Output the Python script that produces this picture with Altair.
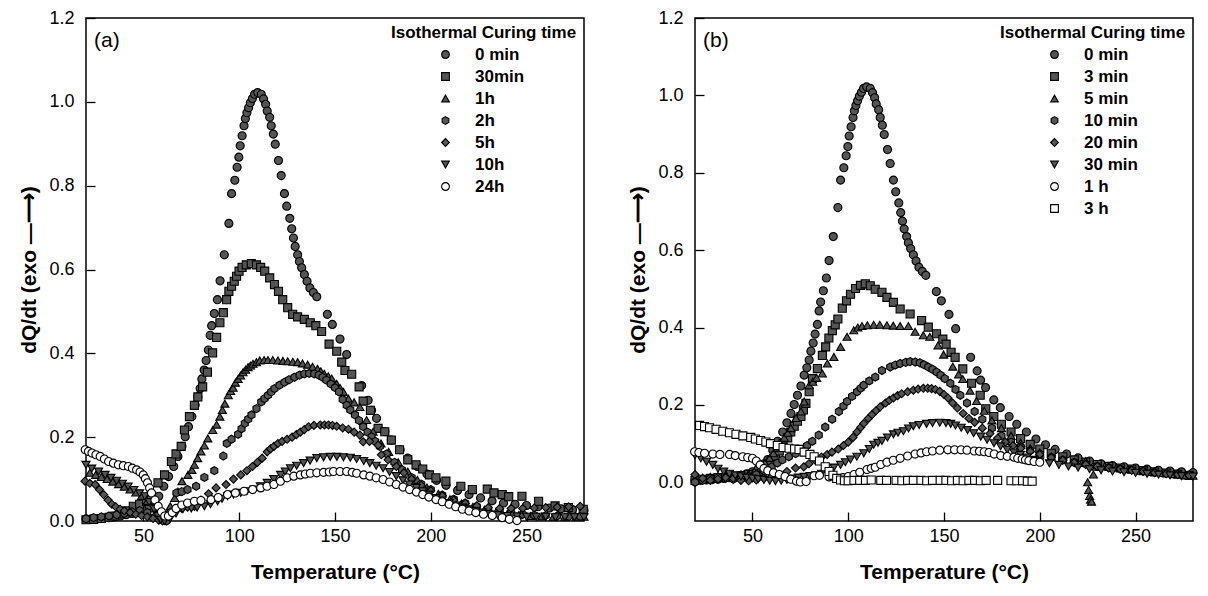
import altair as alt
import pandas as pd

FONT = "Liberation Sans"
DARK = "#555555"
HEX = "M0,-1L0.866,-0.5L0.866,0.5L0,1L-0.866,0.5L-0.866,-0.5Z"

# ---------------- panel (a) ----------------
series_a = ["0 min", "30min", "1h", "2h", "5h", "10h", "24h"]
shapes_a = ["circle", "square", "triangle-up", HEX, "diamond", "triangle-down", "circle"]
fills_a = [DARK, DARK, DARK, DARK, DARK, DARK, "white"]

c_0min = [(20,0.005),(23,0.005),(26,0.006),(29,0.007),(32,0.008),(35,0.01),(38,0.012),(41,0.015),(44,0.018),
          (47,0.022),(50,0.027),(53,0.035),(56,0.048),(58,0.059),(60.6,0.083),(63.1,0.106),(65.8,0.13),(68,0.154),
          (70.1,0.178),(71.8,0.201),(73.5,0.225),(75.3,0.249),(77,0.277),(78.4,0.296),(79.6,0.316),(80.5,0.339),
          (81.7,0.36),(82.7,0.383),(83.9,0.408),(84.8,0.443),(85.6,0.466),(87,0.495),(88.6,0.528),(90,0.573),
          (92.2,0.635),(94.6,0.71),(96,0.781),(97.7,0.813),(98.9,0.844),(99.8,0.868),(100.5,0.895),(101.5,0.919),
          (102.5,0.943),(103.2,0.96),(104,0.974),(104.9,0.986),(105.8,0.998),(106.9,1.008),(108,1.018),(109.6,1.022),
          (111.5,1.018),(112.7,1.007),(113.8,0.994),(114.6,0.978),(115.9,0.963),(116.7,0.943),(117.8,0.923),
          (118.8,0.899),(120.5,0.86),(121.9,0.824),(123.6,0.781),(124.8,0.751),(126.4,0.722),(127.4,0.697),
          (128.3,0.675),(129.2,0.655),(130.5,0.635),(131.4,0.619),(132.6,0.604),(134,0.588),(135.4,0.572),
          (136.9,0.556),(138.7,0.545),(140.5,0.535),(146,0.493),(148.6,0.469),(152.6,0.434),(156.1,0.397),
          (163.9,0.323),(167.3,0.288),(169.1,0.264),(171.7,0.245),(176,0.213),(179.4,0.193),(184,0.17),(188,0.15),
          (193,0.13),(198,0.112),(203,0.097),(208,0.085),(214,0.073),(220,0.063),(226,0.055),(232,0.048),(238,0.043),
          (244,0.04),(250,0.037),(256,0.034),(262,0.031),(268,0.029),(274,0.027),(280,0.025)]

a_30min = [(20,0.003),(24,0.004),(28,0.006),(32,0.009),(35,0.012),(38,0.017),(41,0.024),(44.7,0.035),(48,0.04),
           (51.6,0.047),(54,0.06),(57.6,0.091),(61,0.11),(64.6,0.142),(67,0.16),(69.7,0.178),(71.4,0.217),(74,0.249),
           (76.6,0.276),(78.4,0.296),(80.9,0.32),(83.4,0.355),(86.1,0.401),(88.2,0.438),(89.9,0.473),(91.7,0.497),
           (93.4,0.528),(94.6,0.548),(96,0.56),(97.4,0.572),(98.6,0.584),(99.9,0.596),(101.5,0.605),(103.7,0.611),
           (106.3,0.614),(109,0.611),(111.2,0.605),(113.3,0.596),(115.9,0.58),(118.4,0.564),(120.5,0.548),
           (122.7,0.528),(125.3,0.509),(127.9,0.493),(130.5,0.487),(134,0.481),(137.1,0.473),(140,0.466),(143,0.452),
           (146.9,0.422),(150.9,0.405),(153.5,0.379),(155.2,0.359),(158.7,0.35),(162.6,0.32),(164.7,0.286),
           (168.5,0.264),(172.5,0.221),(176,0.213),(179.4,0.193),(183.7,0.17),(188,0.146),(192.3,0.134),
           (195.8,0.124),(199.3,0.11),(202.7,0.103),(207.9,0.095),(215.7,0.083),(221.7,0.075),(229.5,0.076),
           (233,0.067),(237.3,0.063),(240.7,0.058),(247.6,0.059),(256.3,0.047),(264.9,0.036),(271.8,0.032),(279.6,0.028)]

a_1h = [(22,0.115),(25,0.11),(28,0.105),(31,0.1),(34,0.094),(37,0.088),(40,0.082),(43,0.075),(46,0.068),(49,0.06),
        (52,0.048),(55,0.03),(58,0.012),(61,0.004),(62.5,0.015),(64,0.035),(66.3,0.055),(68,0.07),(70.1,0.095),
        (73.2,0.11),(75.3,0.122),(76.6,0.134),(78.3,0.15),(80,0.166),(81.8,0.18),(83.6,0.197),(86.2,0.217),
        (88.2,0.23),(89.9,0.249),(91.2,0.265),(92.5,0.28),(94.3,0.3),(95.5,0.31),(96.8,0.318),(98,0.33),(99.4,0.339),
        (100.7,0.347),(102,0.355),(103.3,0.361),(104.6,0.367),(105.9,0.371),(107.2,0.375),(109,0.379),(110.7,0.383),
        (113,0.384),(115,0.384),(117.5,0.384),(120.2,0.383),(122.8,0.382),(125.3,0.381),(128,0.38),(130.5,0.379),
        (133,0.376),(135.7,0.373),(138.3,0.368),(140.9,0.363),(142.6,0.357),(144.4,0.351),(146.5,0.345),
        (148.3,0.34),(150.9,0.327),(152.7,0.317),(154.4,0.308),(157,0.292),(160,0.283),(163,0.272),(166.5,0.241),
        (169.9,0.213),(174,0.185),(178,0.165),(183,0.14),(188,0.118),(193,0.098),(198,0.08),(204,0.065),
        (210,0.052),(216,0.042),(222,0.034),(228,0.027),(234,0.021),(240,0.017),(246,0.014),(252,0.012),
        (258,0.011),(264,0.01),(270,0.01),(276,0.01),(280,0.01)]

a_2h = [(20,0.005),(24,0.008),(28,0.01),(32,0.012),(36,0.015),(40,0.018),(44,0.022),(48,0.025),(52,0.02),(56,0.01),
        (60,0.003),(62,0.0),(64,0.02),(67.2,0.067),(70,0.07),(73,0.075),(77.5,0.083),(81.8,0.104),(87,0.12),
        (91.7,0.155),(93.5,0.185),(96,0.195),(99.4,0.207),(101.2,0.22),(102.9,0.233),(104.7,0.243),(106.4,0.253),
        (109,0.268),(111.5,0.284),(113.2,0.292),(115,0.3),(116.7,0.308),(118.4,0.316),(121,0.324),(123.6,0.331),
        (126,0.337),(128.8,0.343),(131.5,0.348),(134,0.351),(136.5,0.352),(139.2,0.351),(141.5,0.348),(143.5,0.343),
        (145.5,0.336),(147.8,0.327),(150,0.318),(152.1,0.308),(154,0.29),(156.1,0.276),(158,0.265),(160.4,0.253),
        (162.5,0.24),(164.7,0.225),(167,0.212),(169.1,0.201),(171,0.19),(173.4,0.178),(177,0.16),(181,0.14),
        (185,0.122),(190,0.104),(195,0.088),(200,0.075),(206,0.062),(212,0.052),(218,0.043),(224,0.035),(230,0.028),
        (236,0.023),(242,0.019),(248,0.016),(254,0.014),(260,0.013),(266,0.012),(272,0.011),(278,0.011)]

a_5h = [(19.5,0.095),(22,0.09),(24.8,0.087),(27,0.075),(29.2,0.063),(31.5,0.05),(33.5,0.04),(35.5,0.034),
        (37.8,0.028),(40,0.024),(43,0.02),(46,0.016),(49,0.013),(52,0.01),(55,0.006),(58,0.002),(60,0.0),
        (63,0.012),(66.3,0.028),(70,0.03),(73,0.033),(76.6,0.035),(80,0.05),(84,0.065),(87.9,0.079),(93.1,0.087),
        (97,0.1),(100.8,0.11),(104,0.12),(106.9,0.13),(109.5,0.14),(112,0.15),(114.6,0.165),(116.3,0.172),
        (118.1,0.178),(120.2,0.185),(122.4,0.19),(125,0.195),(127.6,0.2),(129.8,0.206),(131.9,0.212),(134,0.218),
        (136.2,0.225),(139,0.228),(142.3,0.229),(144.5,0.229),(146.6,0.229),(148.7,0.228),(150.9,0.226),
        (154,0.222),(157,0.219),(160,0.212),(163,0.205),(164.7,0.189),(168,0.19),(172.5,0.181),(174.2,0.158),
        (177.7,0.146),(182,0.13),(186,0.115),(190,0.1),(195,0.085),(200,0.072),(206,0.06),(212,0.05),(218,0.042),
        (224,0.036),(230,0.032),(236,0.03),(242,0.03),(248,0.03),(254,0.031),(260,0.032),(266,0.033),(272,0.034),
        (278,0.035)]

a_10h = [(20,0.134),(23,0.125),(26.6,0.118),(30,0.11),(33,0.103),(36,0.096),(39,0.089),(42,0.082),(45,0.074),
         (48,0.066),(50.7,0.059),(53,0.045),(55.5,0.028),(57.5,0.012),(59,0.003),(61,0.0),(64,0.006),(67,0.018),
         (70.6,0.028),(75,0.03),(78,0.032),(81.8,0.035),(85,0.04),(88.7,0.047),(91,0.053),(93.9,0.059),(97,0.063),
         (100.8,0.067),(104,0.071),(107.7,0.075),(111,0.083),(114.6,0.091),(118,0.1),(121.6,0.11),(124,0.118),
         (126.7,0.126),(130,0.132),(133.6,0.138),(137,0.144),(140.5,0.15),(144,0.152),(147.5,0.153),(151,0.153),
         (154.4,0.152),(158,0.151),(161.3,0.148),(165,0.143),(168.2,0.138),(171.5,0.132),(175.1,0.126),
         (178.5,0.117),(182,0.107),(185.5,0.097),(188.9,0.087),(192.5,0.079),(195.8,0.071),(199,0.063),
         (202.7,0.055),(206,0.049),(209.6,0.043),(213,0.037),(216.5,0.032),(220,0.028),(223.5,0.024),(227,0.02),
         (230.4,0.016),(235,0.014),(240,0.012),(245,0.011),(250,0.01),(255,0.01),(260,0.01),(265,0.009),
         (270,0.009),(275,0.009),(280,0.009)]

a_24h = [(19.6,0.17),(21.3,0.166),(23.1,0.162),(25.2,0.158),(27.4,0.154),(29.6,0.148),(31.8,0.142),(34.3,0.138),
         (36.9,0.134),(39.5,0.132),(42.1,0.13),(44.2,0.126),(46.4,0.122),(48.2,0.117),(49.9,0.11),(51,0.101),
         (52.1,0.091),(53.2,0.079),(54.2,0.067),(56,0.05),(57.7,0.035),(59.4,0.022),(61.1,0.012),(63,0.012),
         (65,0.02),(67,0.03),(70,0.038),(73,0.043),(76.6,0.047),(80,0.049),(85.3,0.051),(89,0.056),(93.9,0.063),
         (98,0.067),(102.5,0.071),(107,0.075),(111.2,0.079),(114.5,0.083),(118.1,0.087),(121.5,0.095),(125,0.103),
         (128.5,0.107),(131.9,0.11),(134.5,0.112),(137.1,0.114),(140.5,0.115),(144,0.116),(147,0.117),(149.2,0.118),
         (152.6,0.118),(156.1,0.118),(159,0.116),(161.3,0.114),(165,0.11),(168.2,0.107),(171.5,0.103),(175.1,0.099),
         (178.5,0.093),(182,0.087),(185.5,0.081),(188.9,0.075),(192.5,0.069),(195.8,0.063),(199,0.057),(202.7,0.051),
         (206,0.046),(209.6,0.04),(213,0.034),(216.5,0.028),(220,0.024),(223.5,0.02),(227.5,0.016),(232.1,0.013),
         (237.3,0.008),(241,0.004),(245,0.001)]

# ---------------- panel (b) ----------------
series_b = ["0 min", "3 min", "5 min", "10 min", "20 min", "30 min", "1 h", "3 h"]
shapes_b = ["circle", "square", "triangle-up", HEX, "diamond", "triangle-down", "circle", "square"]
fills_b = [DARK, DARK, DARK, DARK, DARK, DARK, "white", "white"]

b_3min = [(20,0.005),(24,0.008),(28,0.01),(32,0.012),(36,0.013),(40,0.015),(44,0.017),(48,0.02),(52,0.022),
          (55.4,0.029),(57.5,0.04),(59.7,0.055),(62,0.068),(64,0.081),(66,0.1),(68.4,0.115),(70,0.13),(71.8,0.145),
          (73.5,0.158),(75.3,0.17),(76.6,0.187),(77.9,0.204),(79.6,0.234),(81.3,0.268),(83.9,0.294),(86.5,0.328),
          (88.2,0.35),(89.9,0.373),(91.7,0.392),(93.2,0.407),(94.6,0.422),(96.9,0.45),(99.1,0.469),(101.2,0.486),
          (103.8,0.501),(106.4,0.509),(108.9,0.513),(111.5,0.508),(114.1,0.499),(117.6,0.491),(120.2,0.478),
          (123.6,0.465),(127.1,0.448),(132.3,0.435),(138.3,0.418),(141.8,0.401),(146.1,0.384),(149.4,0.37),
          (151.1,0.357),(153.7,0.336),(155.8,0.323),(159.8,0.293),(164.4,0.256),(168.9,0.225),(171.8,0.19),
          (176,0.17),(180,0.15),(185,0.13),(190,0.113),(195,0.098),(200,0.086),(206,0.075),(212,0.066),(218,0.058),
          (224,0.052),(230,0.046),(236,0.041),(242,0.037),(248,0.034),(254,0.03),(260,0.027),(266,0.024),
          (272,0.021),(278,0.018)]

b_5min = [(20,0.01),(24,0.012),(28,0.014),(32,0.016),(36,0.018),(40,0.02),(44,0.02),(48,0.022),(51,0.028),
          (54.5,0.038),(56.5,0.05),(58.9,0.063),(61,0.075),(63.2,0.089),(65,0.1),(66.6,0.115),(68.4,0.128),
          (70.1,0.14),(72.7,0.166),(75.3,0.183),(77,0.209),(79.6,0.251),(81.5,0.26),(83.5,0.27),(86.5,0.281),
          (89.1,0.307),(92.5,0.324),(96,0.35),(99.4,0.376),(102.9,0.393),(105,0.4),(107.2,0.404),(110,0.406),
          (113.3,0.407),(116.5,0.407),(120.2,0.406),(123.5,0.405),(127.1,0.404),(131.4,0.404),(134.9,0.389),
          (139.2,0.38),(142.6,0.376),(146.9,0.354),(149.8,0.33),(154.6,0.299),(157.6,0.279),(159.8,0.267),
          (163.6,0.237),(167,0.21),(171,0.185),(175,0.16),(180,0.14),(185,0.12),(190,0.102),(195,0.088),(200,0.077),
          (206,0.066),(212,0.058),(218,0.052),(222,0.05),(224,0.055),(225,0.0),(225.5,-0.02),(226,-0.035),
          (226.5,-0.045),(227,-0.05),(228,0.02),(229.5,0.04),(234,0.042),(240,0.038),(246,0.034),(252,0.03),
          (258,0.027),(264,0.024),(270,0.021),(276,0.018),(280,0.017)]

b_10min = [(20,0.0),(24,0.005),(28,0.01),(32,0.012),(36,0.01),(40,0.008),(44,0.01),(48,0.015),(52,0.02),(56,0.03),
           (60,0.04),(63,0.05),(65.6,0.058),(69,0.066),(72.5,0.074),(76,0.085),(78.5,0.095),(81.2,0.106),(84.6,0.122),
           (88,0.143),(91.6,0.163),(95.1,0.183),(97.5,0.197),(99.4,0.209),(102,0.222),(104.6,0.234),(106.5,0.243),
           (108.1,0.251),(111,0.262),(114.1,0.272),(117.6,0.289),(121.9,0.298),(124.5,0.303),(127.1,0.307),
           (130,0.31),(132.3,0.312),(135,0.311),(137.4,0.309),(139.5,0.304),(141.8,0.298),(144,0.292),(146.1,0.285),
           (148.2,0.277),(150.4,0.268),(153.3,0.256),(156,0.24),(158.5,0.225),(162,0.205),(166,0.183),(170,0.163),
           (175,0.14),(180,0.12),(185,0.104),(190,0.092),(195,0.082),(200,0.073),(206,0.065),(212,0.058),(218,0.052),
           (224,0.047),(230,0.042),(236,0.038),(242,0.035),(248,0.032),(254,0.029),(260,0.026),(266,0.023),
           (272,0.021),(278,0.019)]

b_20min = [(20,0.02),(24,0.01),(28,0.005),(32,0.008),(36,0.012),(40,0.01),(44,0.005),(48,0.004),(52,0.006),
           (56,0.01),(60,0.015),(64,0.02),(68,0.028),(72.5,0.037),(76.8,0.04),(79.5,0.048),(82.8,0.057),(86,0.065),
           (89,0.072),(91.5,0.078),(94.8,0.086),(97.5,0.095),(100,0.104),(102.5,0.116),(104.6,0.13),(106.5,0.142),
           (108.1,0.152),(110.5,0.165),(112.4,0.175),(114.5,0.185),(116.7,0.195),(119.5,0.205),(121.5,0.212),
           (123.6,0.218),(125.8,0.224),(127.9,0.229),(131,0.234),(134,0.238),(136.5,0.241),(139.2,0.243),
           (141.5,0.243),(143.5,0.242),(145.5,0.24),(147.8,0.235),(150,0.227),(152.1,0.218),(154.5,0.205),
           (157,0.192),(160,0.178),(163,0.165),(166,0.155),(170,0.14),(174,0.126),(178,0.114),(182,0.104),
           (186,0.095),(190,0.088),(195,0.08),(200,0.072),(206,0.064),(212,0.057),(218,0.051),(224,0.046),
           (230,0.041),(236,0.037),(242,0.034),(248,0.031),(254,0.028),(260,0.025),(266,0.022),(272,0.02),(278,0.018)]

b_30min = [(20,0.07),(23,0.062),(26,0.053),(29.3,0.045),(32,0.035),(35,0.028),(38,0.022),(41,0.018),(44,0.015),
           (47,0.012),(50,0.01),(53,0.008),(56,0.006),(59,0.004),(62,0.003),(65,0.004),(68,0.006),(71,0.01),
           (74,0.012),(77,0.014),(80,0.016),(83,0.018),(86,0.022),(89,0.03),(92.5,0.038),(96,0.045),(98.5,0.052),
           (101.2,0.059),(104.5,0.066),(108.1,0.075),(111,0.086),(113.3,0.097),(115.5,0.102),(117.6,0.107),
           (120.5,0.116),(123.6,0.124),(126,0.128),(128.8,0.132),(131.5,0.139),(134,0.145),(137,0.148),
           (140.9,0.151),(144,0.153),(147.8,0.154),(151,0.153),(153.5,0.151),(156,0.147),(159,0.141),(162.3,0.135),
           (165.5,0.127),(169.2,0.118),(172.5,0.11),(176.1,0.101),(179.5,0.093),(183,0.084),(186.5,0.077),
           (189.9,0.071),(193.3,0.064),(196.8,0.058),(200,0.054),(205,0.049),(210,0.045),(215,0.041),(220,0.038),
           (226,0.034),(232,0.031),(238,0.028),(244,0.026),(250,0.024),(256,0.022),(262,0.02),(268,0.018),
           (274,0.016),(280,0.015)]

b_1h = [(19.8,0.079),(22,0.077),(25,0.075),(29.3,0.073),(33,0.072),(38,0.072),(41,0.069),(44.9,0.066),(47.5,0.064),
        (50,0.062),(52,0.055),(54,0.045),(56,0.036),(58,0.03),(61,0.025),(64,0.02),(67,0.015),(70,0.008),(73,0.003),
        (75,0.001),(78,0.002),(82.2,0.017),(85,0.018),(90,0.014),(94,0.01),(97.2,0.012),(100,0.015),(103,0.02),
        (106,0.026),(109.8,0.033),(112,0.036),(114.1,0.039),(117,0.046),(120.2,0.052),(123.5,0.057),(127.1,0.062),
        (131,0.068),(134.9,0.073),(138,0.076),(140.9,0.079),(144,0.081),(147.8,0.083),(152,0.084),(155.5,0.084),
        (158.9,0.084),(162,0.083),(165.8,0.081),(168.5,0.08),(171,0.079),(173.5,0.077),(176.2,0.073),(179.6,0.069),
        (183,0.067),(186.5,0.065),(188.5,0.062),(190.8,0.06),(192.5,0.058),(194.3,0.056),(197,0.054),(200,0.052)]

b_3h = [(22.4,0.147),(25,0.144),(27.6,0.141),(31,0.137),(34.5,0.132),(38,0.128),(41.4,0.124),(45,0.12),(49.1,0.116),
        (51.5,0.112),(54.3,0.108),(57,0.104),(59.4,0.1),(63,0.095),(66,0.09),(69.1,0.088),(72,0.086),(74.3,0.085),
        (77,0.078),(80,0.072),(82.2,0.066),(85,0.055),(88,0.04),(90,0.028),(92,0.018),(94,0.01),(96,0.006),
        (98,0.004),(100,0.004),(103,0.005),(106,0.005),(109,0.005),(112,0.006),(117,0.005),(120,0.005),(125,0.005),
        (128,0.004),(131,0.005),(134,0.005),(138,0.005),(141,0.004),(144,0.005),(148,0.005),(151,0.005),
        (154,0.004),(157,0.005),(160,0.004),(163,0.005),(166,0.005),(169,0.004),(172,0.005),(178,0.005),
        (185,0.004),(188,0.004),(191,0.004),(193.5,0.003),(196,0.003)]

x_ticks = [50, 100, 150, 200, 250]
y_ticks = [0.0, 0.2, 0.4, 0.6, 0.8, 1.0, 1.2]
panel_labels = ["(a)", "(b)"]
legend_title = "Isothermal Curing time"
x_title = "Temperature (°C)"
y_title = "dQ/dt (exo \u2014\u27f6)"


def frame(names, lists):
    rows = []
    for i, (n, pts) in enumerate(zip(names, lists)):
        for t, v in pts:
            rows.append({"T": t, "v": v, "series": n, "k": i})
    return pd.DataFrame(rows)


def panel(df, names, shapes, fills, ydom, label):
    leg = alt.Legend(
        title=legend_title, orient="top-right", offset=7, titleLimit=400, labelLimit=300,
        titleFont=FONT, titleFontSize=17, titleFontWeight="bold", titleColor="black",
        titlePadding=4, labelFont=FONT, labelFontSize=17, labelFontWeight="bold",
        labelColor="black", symbolOffset=46, labelOffset=21, rowPadding=4,
        symbolSize=60, symbolStrokeWidth=1.1,
    )
    xaxis = alt.Axis(values=x_ticks, title=x_title, tickSize=9, offset=-9, domain=False,
                     tickColor="black", tickWidth=1.3, labelPadding=6, labelFont=FONT, labelFontSize=18,
                     labelColor="black", titleFont=FONT, titleFontSize=21, titleFontWeight="bold",
                     titleColor="black", titlePadding=16, grid=False)
    yaxis = alt.Axis(values=y_ticks, format=".1f", title=y_title, tickSize=9, offset=-9,
                     domain=False, tickColor="black", tickWidth=1.3, labelPadding=12, labelFont=FONT,
                     labelFontSize=18, labelColor="black", titleFont=FONT, titleFontSize=21,
                     titleFontWeight="bold", titleColor="black", titlePadding=9, grid=False)
    n = len(names)
    pts = alt.Chart(df).mark_point(filled=True, size=65, strokeWidth=1.1, opacity=1).encode(
        x=alt.X("T:Q", scale=alt.Scale(domain=[20, 280], nice=False, zero=False), axis=xaxis),
        y=alt.Y("v:Q", scale=alt.Scale(domain=ydom, nice=False, zero=False), axis=yaxis),
        shape=alt.Shape("series:N", scale=alt.Scale(domain=names, range=shapes), legend=leg),
        fill=alt.Fill("series:N", scale=alt.Scale(domain=names, range=fills), legend=leg),
        stroke=alt.Stroke("series:N", scale=alt.Scale(domain=names, range=["black"] * n), legend=leg),
        order=alt.Order("k:Q"),
    )
    lab = alt.Chart(pd.DataFrame({"label": [label]})).mark_text(
        align="left", baseline="middle", font=FONT, fontSize=21, color="black"
    ).encode(x=alt.value(8), y=alt.value(23), text="label:N")
    return alt.layer(pts, lab).properties(width=498, height=503)


df_a = frame(series_a, [c_0min, a_30min, a_1h, a_2h, a_5h, a_10h, a_24h])
df_b = frame(series_b, [c_0min, b_3min, b_5min, b_10min, b_20min, b_30min, b_1h, b_3h])

pa = panel(df_a, series_a, shapes_a, fills_a, [0, 1.2], panel_labels[0])
pb = panel(df_b, series_b, shapes_b, fills_b, [-0.1, 1.2], panel_labels[1])

chart = (
    alt.hconcat(pa, pb, spacing=36)
    .resolve_scale(x="independent", y="independent", shape="independent", fill="independent",
                   stroke="independent")
    .resolve_legend(shape="independent", fill="independent", stroke="independent")
    .properties(padding={"left": 10, "top": 0, "right": 0, "bottom": 0}, background="white")
    .configure_view(stroke="black", strokeWidth=1.5)
)

chart.save("out.html", embed_options={"renderer": "svg", "actions": False})
